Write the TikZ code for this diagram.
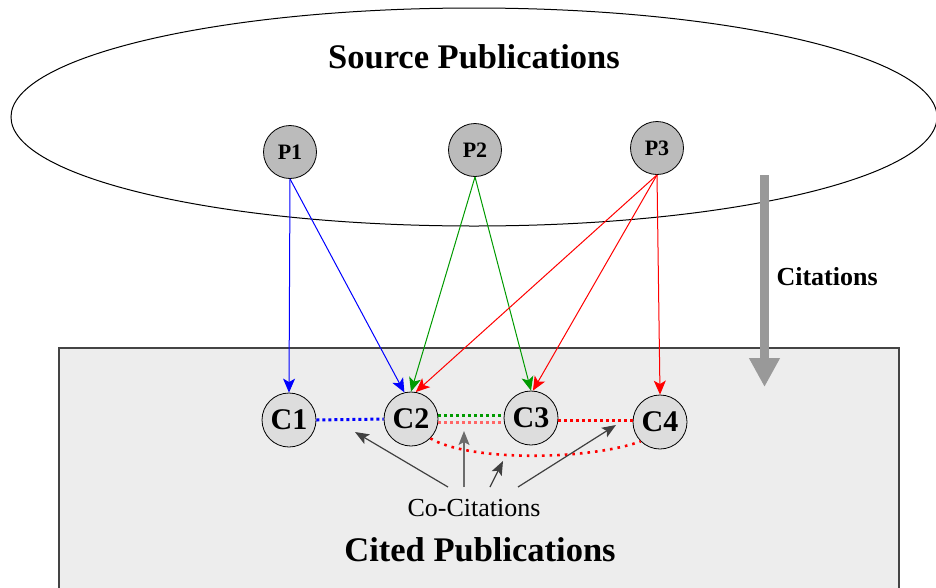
\documentclass[tikz,border=0pt]{standalone}
\usepackage{fontspec}
\setmainfont{Liberation Serif}
\usetikzlibrary{arrows.meta}
\definecolor{pubfill}{HTML}{BBBBBB}
\definecolor{citfill}{HTML}{DDDDDD}
\definecolor{boxfill}{HTML}{EDEDED}
\definecolor{boxline}{HTML}{444444}
\definecolor{cgreen}{HTML}{009A00}
\definecolor{lightred}{HTML}{FF6666}
\definecolor{pointer}{HTML}{404040}
\definecolor{bigarrow}{HTML}{999999}
\tikzset{
  pubnode/.style={circle, draw=black, line width=0.8pt, fill=pubfill, minimum size=53pt, inner sep=0pt,
    font=\fontsize{22}{22}\selectfont\bfseries},
  citnode/.style={circle, draw=black, line width=0.8pt, fill=citfill, minimum size=54pt, inner sep=0pt,
    font=\fontsize{30}{30}\selectfont\bfseries},
  cite/.style={line width=1pt, -{Stealth[length=14pt,width=12pt,inset=3.5pt]}},
  cocite/.style={line width=3pt, dash pattern=on 3pt off 3pt},
  pointto/.style={line width=1.2pt, draw=pointer, -{Stealth[length=14pt,width=11pt,inset=3pt]}},
  title/.style={font=\fontsize{34.5}{34.5}\selectfont\bfseries}
}
\begin{document}
\begin{tikzpicture}[x=1pt, y=-1pt]
  \useasboundingbox (0,0) rectangle (936,587);

  % the two sets of publications
  \draw[line width=1pt] (474,117) ellipse [x radius=463, y radius=109];
  \draw[boxline, line width=1.5pt, fill=boxfill] (59,600) -- (59,348) -- (899,348) -- (899,600);

  \node[title] (src) at (474,57) {Source Publications};
  \node[title] (cited) at (480,550) {Cited Publications};

  % source papers
  \node[pubnode] (P1) at (290,152) {P1};
  \node[pubnode] (P2) at (475,150) {P2};
  \node[pubnode] (P3) at (657,148) {P3};

  % cited papers
  \node[citnode] (C1) at (289,420) {C1};
  \node[citnode] (C2) at (411,419) {C2};
  \node[citnode] (C3) at (531,418) {C3};
  \node[citnode] (C4) at (660,422) {C4};

  % citation links
  \draw[cite, blue] (P1.south) -- (C1.north);
  \draw[cite, blue] (P1.south) -- (C2.104);
  \draw[cite, cgreen] (P2.south) -- (C2.north);
  \draw[cite, cgreen] (P2.south) -- (C3.north);
  \draw[cite, red] (P3.south) -- (C2.80);
  \draw[cite, red] (P3.south) -- (C3.86);
  \draw[cite, red] (P3.south) -- (C4.north);

  % co-citation links
  \draw[cocite, blue] (C1.east) -- (C2.west);
  \draw[cocite, cgreen] (C2.east |- 0,415) -- (C3.west |- 0,415);
  \draw[cocite, lightred] (C2.east |- 0,422) -- (C3.west |- 0,422);
  \draw[cocite, red] (C3.east |- 0,420) -- (C4.west |- 0,420);
  \draw[red, line width=2.6pt, dash pattern=on 2.6pt off 5pt]
    (C2.-45) .. controls (470,462) and (590,460) .. (C4.-135);

  % co-citation label and its pointers
  \node[font=\fontsize{26}{26}\selectfont] (co) at (474,508) {Co-Citations};
  \coordinate (t1) at (355,432);
  \coordinate (t2) at (464,431);
  \coordinate (t3) at (503,461);
  \coordinate (t4) at (616,425);
  \draw[pointto] (448,487) -- (t1);
  \draw[pointto, draw=gray!85!black] (464,487) -- (t2);
  \draw[pointto] (490,487) -- (t3);
  \draw[pointto] (518,487) -- (t4);

  % direction of citation
  \coordinate (ca) at (764.5,175);
  \coordinate (cb) at (764.5,387);
  \draw[bigarrow, line width=9pt, -{Triangle[length=29pt,width=29pt]}] (ca) -- (cb);
  \node[font=\fontsize{26}{26}\selectfont\bfseries, anchor=west] (cit) at (773,277) {Citations};
\end{tikzpicture}
\end{document}
